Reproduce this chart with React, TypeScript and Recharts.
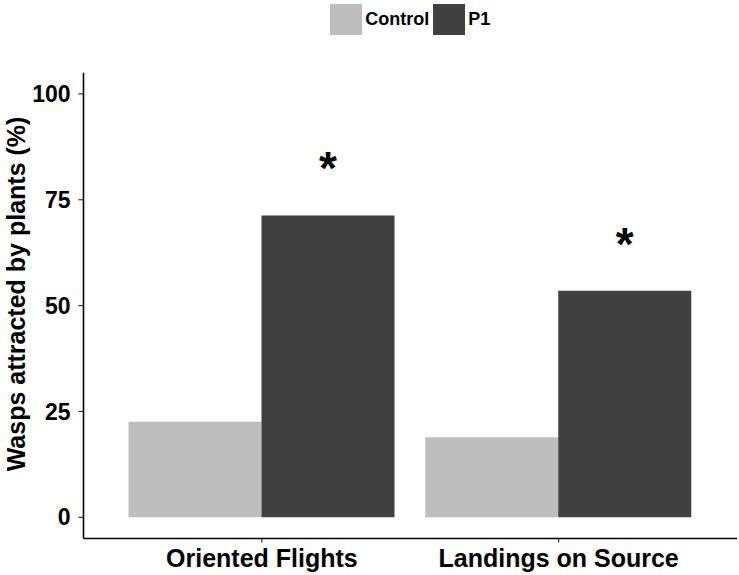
import React from 'react';
import { BarChart, Bar, XAxis, YAxis, LabelList } from 'recharts';

const categories = ['Oriented Flights', 'Landings on Source'];
const controlValues = [22.6, 18.9];
const p1Values = [71.3, 53.5];
const significance = ['*', '*'];
const yTicks = [0, 25, 50, 75, 100];

const series = [
  { key: 'Control', color: '#bebebe' },
  { key: 'P1', color: '#404040' },
];

const data = categories.map((name, i) => ({
  name,
  Control: controlValues[i],
  P1: p1Values[i],
  sig: significance[i],
}));

const FONT = '"Liberation Sans", Arial, Helvetica, sans-serif';

function Star(props: any) {
  const { x, y, width, value } = props;
  if (!value) return null;
  const cy = y - 56;
  return (
    <text
      x={x + width / 2}
      y={cy + 25}
      textAnchor="middle"
      fontFamily={FONT}
      fontWeight="bold"
      fontSize={46}
      fill="#000"
    >
      {value}
    </text>
  );
}

function YTitle() {
  return (
    <text
      x={25}
      y={294}
      transform="rotate(-90, 25, 294)"
      textAnchor="middle"
      fontFamily={FONT}
      fontWeight="bold"
      fontSize={25}
      fill="#000"
    >
      Wasps attracted by plants (%)
    </text>
  );
}

export default function App() {
  return (
    <div style={{ position: 'absolute', left: 0, top: 0, width: 739, height: 575, background: '#fff' }}>
      <BarChart
        width={739}
        height={575}
        data={data}
        margin={{ top: 72.7, right: 2, left: 0, bottom: 0 }}
        barCategoryGap={15}
        barGap={0}
      >
        <XAxis
          dataKey="name"
          height={36.5}
          padding={{ left: 30, right: 30 }}
          axisLine={{ stroke: '#000', strokeWidth: 1.6 }}
          tickLine={{ stroke: '#333', strokeWidth: 1.2 }}
          tickSize={4}
          tickMargin={7}
          tick={{ fill: '#000', fontSize: 25, fontWeight: 'bold', fontFamily: FONT }}
        />
        <YAxis
          width={83.5}
          domain={[-5, 105]}
          ticks={yTicks}
          allowDataOverflow
          axisLine={{ stroke: '#000', strokeWidth: 1.6 }}
          tickLine={{ stroke: '#333', strokeWidth: 1.2 }}
          tickSize={5}
          tickMargin={8}
          tick={{ fill: '#000', fontSize: 23, fontWeight: 'bold', fontFamily: FONT }}
          label={<YTitle />}
        />
        <Bar dataKey="Control" fill={series[0].color} isAnimationActive={false} />
        <Bar dataKey="P1" fill={series[1].color} isAnimationActive={false}>
          <LabelList dataKey="sig" content={<Star />} />
        </Bar>
      </BarChart>
      <div
        style={{
          position: 'absolute',
          top: 4,
          left: 83.5,
          width: 653.5,
          display: 'flex',
          justifyContent: 'center',
          alignItems: 'center',
          fontFamily: FONT,
          fontWeight: 'bold',
          fontSize: 18,
          color: '#000',
        }}
      >
        {series.map((s, i) => (
          <div key={s.key} style={{ display: 'flex', alignItems: 'center', marginLeft: i === 0 ? 0 : 4 }}>
            <div style={{ width: 32, height: 31, background: s.color }} />
            <span style={{ marginLeft: 3 }}>{s.key}</span>
          </div>
        ))}
      </div>
    </div>
  );
}
